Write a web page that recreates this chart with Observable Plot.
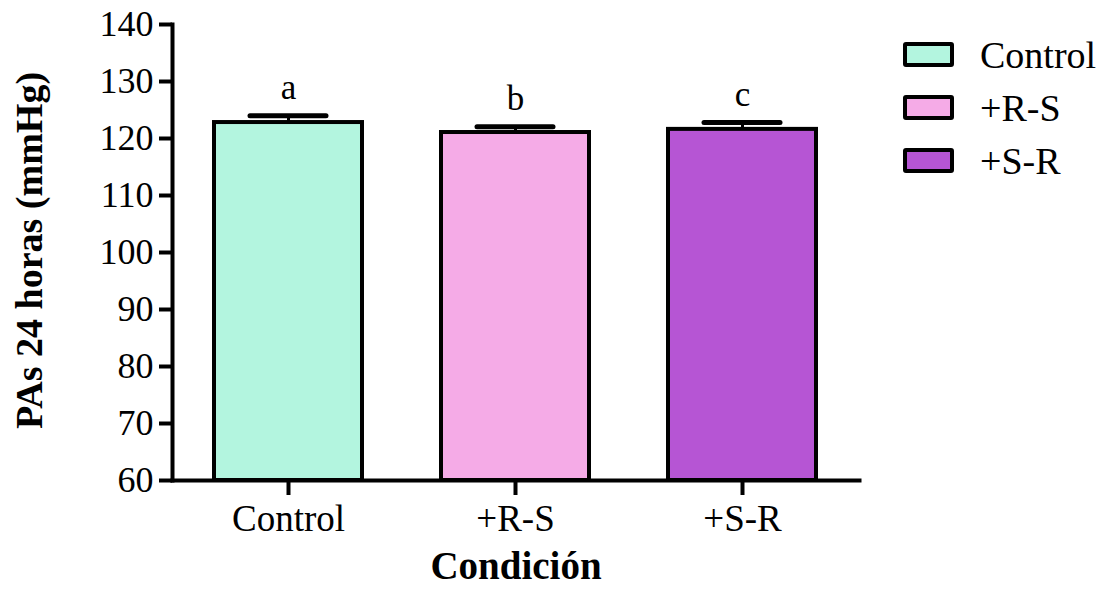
<!DOCTYPE html>
<html>
<head>
<meta charset="utf-8">
<script src="https://cdn.jsdelivr.net/npm/d3@7"></script>
<script src="https://cdn.jsdelivr.net/npm/@observablehq/plot@0.6"></script>
<style>
  html, body { margin: 0; padding: 0; background: #fff; }
  #wrap { position: relative; width: 1104px; height: 589px; font-family: "Liberation Serif", "Times New Roman", serif; }
  #legend { position: absolute; left: 903px; top: 42px; }
  .row { display: flex; align-items: center; height: 25px; margin-bottom: 28px; }
  .sw { width: 43px; height: 17px; border: 4px solid #000; border-radius: 3px; }
  .lab { margin-left: 26px; font-size: 38px; line-height: 1; color: #000; }
</style>
</head>
<body>
<div id="wrap"><div id="legend"></div></div>
<script>
const categories = ["Control", "+R-S", "+S-R"];
const means = [122.8, 121.05, 121.6];
const errors = [1.2, 1.0, 1.2];
const letters = ["a", "b", "c"];
const colors = ["#b3f5df", "#f5abe7", "#b655d4"];
const yTicks = [60, 70, 80, 90, 100, 110, 120, 130, 140];
const yLabel = "PAs 24 horas (mmHg)";
const xLabel = "Condición";

const data = categories.map((c, i) => ({cat: c, mean: means[i], err: errors[i], letter: letters[i], color: colors[i]}));

const chart = Plot.plot({
  width: 1104,
  height: 589,
  marginLeft: 172,
  marginRight: 245,
  marginTop: 24,
  marginBottom: 109,
  style: {fontFamily: '"Liberation Serif", "Times New Roman", serif', color: "#000", background: "#fff"},
  x: {domain: categories, paddingInner: 0.346, paddingOuter: 0.18, label: null},
  y: {domain: [60, 140], label: null},
  marks: [
    Plot.barY(data, {x: "cat", y1: 60, y2: "mean", fill: d => d.color, stroke: "#000", strokeWidth: 4}),
    Plot.ruleX(data, {x: "cat", y1: "mean", y2: d => d.mean + d.err, stroke: "#000", strokeWidth: 3}),
    Plot.tickY(data, {x: "cat", y: d => d.mean + d.err, stroke: "#000", strokeWidth: 5, strokeLinecap: "round", insetLeft: 36, insetRight: 36}),
    Plot.text(data, {x: "cat", y: d => d.mean + d.err, text: "letter", dy: -17, lineAnchor: "bottom", fontSize: 35, fill: "#000"}),
    Plot.axisY({ticks: yTicks, tickSize: 13, tickPadding: 6, strokeWidth: 4, fontSize: 36, label: null}),
    Plot.axisX({tickSize: 15, tickPadding: 9, strokeWidth: 4, fontSize: 37, label: null}),
    Plot.frame({anchor: "left", strokeWidth: 4}),
    Plot.frame({anchor: "bottom", strokeWidth: 4}),
    Plot.text([yLabel], {text: d => d, frameAnchor: "left", textAnchor: "middle", lineAnchor: "middle", rotate: -90, dx: -143, dy: -2, fontSize: 38, fontWeight: "bold", fill: "#000"}),
    Plot.text([xLabel], {text: d => d, frameAnchor: "bottom", textAnchor: "middle", lineAnchor: "middle", dx: 0, dy: 86, fontSize: 39, fontWeight: "bold", fill: "#000"})
  ]
});

const wrap = document.getElementById("wrap");
wrap.insertBefore(chart, wrap.firstChild);

const legend = d3.select("#legend");
data.forEach(d => {
  const row = legend.append("div").attr("class", "row");
  row.append("div").attr("class", "sw").style("background", d.color);
  row.append("div").attr("class", "lab").text(d.cat);
});
</script>
</body>
</html>
